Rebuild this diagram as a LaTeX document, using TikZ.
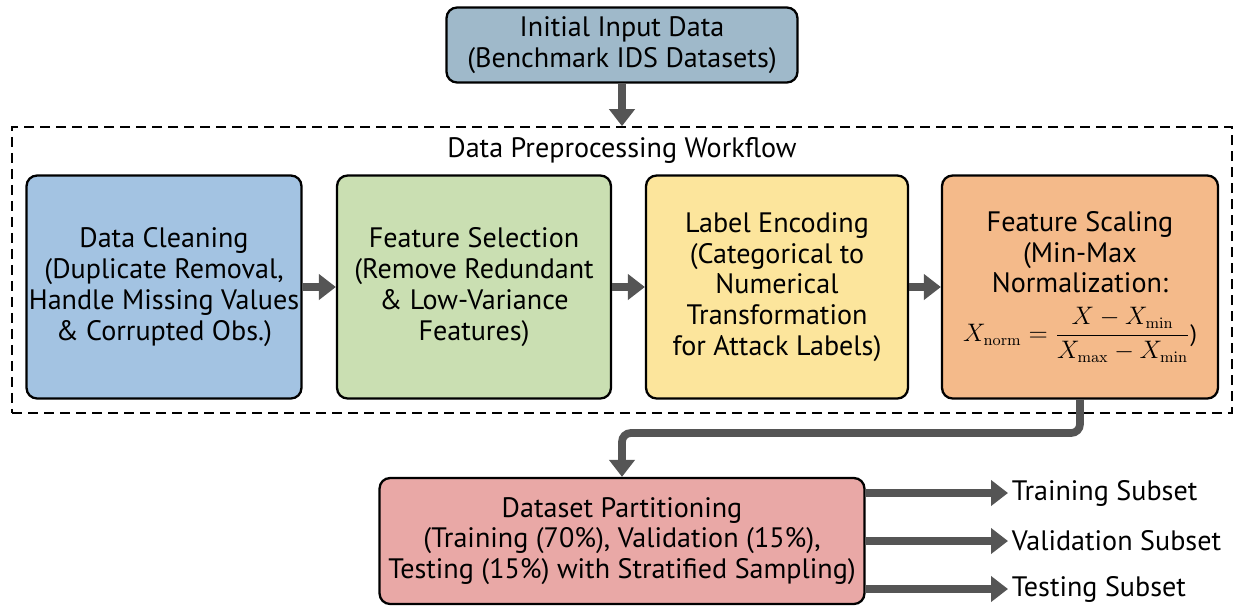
\documentclass[tikz,border=0pt]{standalone}
\usepackage[no-math]{fontspec}
\setmainfont{PT Sans}
\usepackage{tikz}
\usetikzlibrary{arrows.meta}
\definecolor{inputfill}{HTML}{9FB9CA}
\definecolor{cleanfill}{HTML}{A3C3E2}
\definecolor{selectfill}{HTML}{CADFB2}
\definecolor{encodefill}{HTML}{FCE59C}
\definecolor{scalefill}{HTML}{F4BA8A}
\definecolor{partfill}{HTML}{E9A8A6}
\definecolor{arrowgray}{HTML}{555555}
\tikzset{
    stage/.style = {rectangle, rounded corners=6pt, draw=black, line width=1.3pt, minimum height=4.46cm, text centered, align=center, inner sep=1pt, font=\fontsize{16}{17.5}\selectfont},
    inout/.style = {rectangle, rounded corners=6pt, draw=black, line width=1.3pt, text centered, align=center, font=\fontsize{16}{17.5}\selectfont},
    subset/.style = {anchor=west, inner sep=2pt, font=\fontsize{16}{17.5}\selectfont},
    arrow/.style = {draw=arrowgray, line width=4.4pt, -{Triangle[width=0.5cm, length=0.34cm]}}
}

\begin{document}
\begin{tikzpicture}[x=0.02cm, y=-0.02cm]
    \useasboundingbox (0,0) rectangle (1235,606);

    \node (input) [inout, fill=inputfill, minimum width=7.02cm, minimum height=1.5cm] at (622, 45) {Initial Input Data\\(Benchmark IDS Datasets)};

    \node (workflow) [draw=black, dashed, dash pattern=on 0.2cm off 0.12cm, line width=1pt, minimum width=24.4cm, minimum height=5.72cm] at (622, 270) {};
    \node (title) [font=\fontsize{16}{17.5}\selectfont] at (622, 150) {Data Preprocessing Workflow};

    \node (clean) [stage, fill=cleanfill, minimum width=5.5cm] at (164, 287) {Data Cleaning\\(Duplicate Removal,\\Handle Missing Values\\\& Corrupted Obs.)};
    \node (select) [stage, fill=selectfill, minimum width=5.48cm] at (474, 287) {Feature Selection\\(Remove Redundant\\\& Low-Variance\\Features)};
    \node (encode) [stage, fill=encodefill, minimum width=5.24cm] at (777, 287) {Label Encoding\\(Categorical to\\Numerical\\Transformation\\for Attack Labels)};
    \node (scale) [stage, fill=scalefill, minimum width=5.52cm] at (1080, 287) {Feature Scaling\\(Min-Max\\Normalization:\\[7pt]{\fontsize{13.5}{15}\selectfont$\displaystyle X_{\mathrm{norm}}=\frac{X-X_{\mathrm{min}}}{X_{\mathrm{max}}-X_{\mathrm{min}}}$)}};

    \node (part) [inout, fill=partfill, minimum width=9.7cm, minimum height=2.52cm] at (622, 541) {Dataset Partitioning\\(Training (70\%), Validation (15\%),\\Testing (15\%) with Stratified Sampling)};

    \node (train) [subset] at (1008, 493) {Training Subset};
    \node (valid) [subset] at (1008, 541) {Validation Subset};
    \node (test) [subset] at (1008, 589) {Testing Subset};

    \coordinate (bend) at (622, 433);

    \draw [arrow] (input) -- (workflow.north);
    \draw [arrow] (clean) -- (select);
    \draw [arrow] (select) -- (encode);
    \draw [arrow] (encode) -- (scale);
    \draw [arrow, rounded corners=5pt] (scale.south) |- (bend) -- (part.north);

    \draw [arrow] (part.east |- train.west) -- (train.west);
    \draw [arrow] (part.east |- valid.west) -- (valid.west);
    \draw [arrow] (part.east |- test.west) -- (test.west);
\end{tikzpicture}
\end{document}
